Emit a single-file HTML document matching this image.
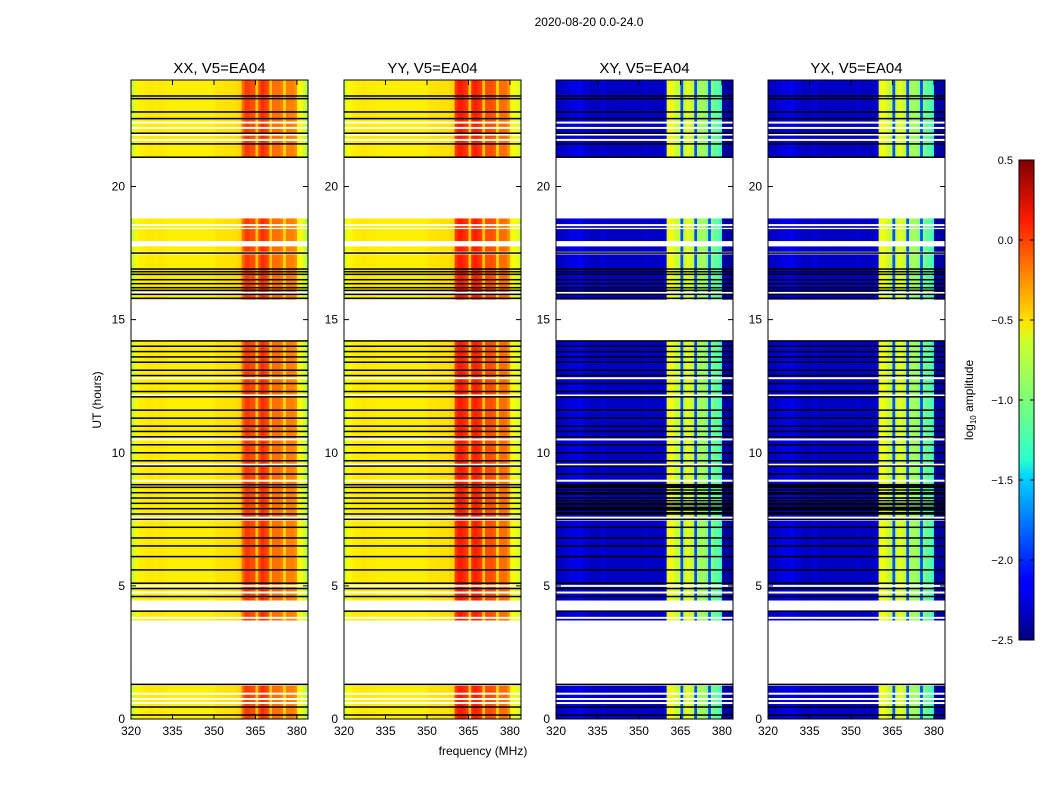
<!DOCTYPE html>
<html><head><meta charset="utf-8"><style>
body{margin:0;background:#fff}
svg{display:block;font-family:"Liberation Sans",sans-serif}
</style></head><body>
<svg id="fig" width="1050" height="800" viewBox="0 0 1050 800">
<defs><linearGradient id="jet" x1="0" y1="1" x2="0" y2="0">
<stop offset="0" stop-color="#00007f"/><stop offset="0.11" stop-color="#0000ff"/><stop offset="0.125" stop-color="#0000ff"/>
<stop offset="0.34" stop-color="#00d4ff"/><stop offset="0.375" stop-color="#29ffce"/><stop offset="0.5" stop-color="#7dff7a"/>
<stop offset="0.625" stop-color="#ceff29"/><stop offset="0.66" stop-color="#ffe600"/><stop offset="0.875" stop-color="#ff1a00"/><stop offset="1" stop-color="#7f0000"/>
</linearGradient></defs>
<text x="589" y="26" font-size="12" text-anchor="middle">2020-08-20 0.0-24.0</text>
<g id="panels"></g>
<text x="483" y="755" font-size="12" text-anchor="middle">frequency (MHz)</text>
<text x="101" y="400" font-size="12" text-anchor="middle" transform="rotate(-90 101 400)">UT (hours)</text>
<g>
<rect x="1019" y="160" width="15" height="480" fill="url(#jet)" stroke="#000" stroke-width="1"/>
<g id="cbticks"></g>
<text x="973" y="400" font-size="12" text-anchor="middle" transform="rotate(-90 973 400)">log<tspan font-size="8" dy="3">10</tspan><tspan dy="-3"> amplitude</tspan></text>
</g>
</svg>
<script>
const titles=["XX, V5=EA04","YY, V5=EA04","XY, V5=EA04","YX, V5=EA04"];
const freqTicks=[320,335,350,365,380];
const timeTicks=[0,5,10,15,20];
const cbTicks=[0.5,0.0,-0.5,-1.0,-1.5,-2.0,-2.5];
// observed time segments (hours)
const segStart=[0.0,3.7,4.45,7.6,15.75,17.55,17.95,18.45,21.1];
const segEnd=[1.25,4.05,7.45,14.2,17.45,17.75,18.4,18.8,24.0];
// flagged (white) and dropout (black) lines (hours)
const whiteLines=[22.4,22.2,21.95,21.75,18.55,17.85,16.0,12.8,12.15,10.5,9.55,8.95,5.0,4.75,3.8,0.95,0.75,0.6];
const blackLines=[23.4,23.3,22.8,22.55,22.0,21.6,21.1,17.5,16.9,16.8,16.7,16.5,16.35,16.2,16.1,15.95,15.8,14.2,14.0,13.8,13.6,13.4,13.1,12.9,12.6,12.3,12.1,11.6,11.3,11.0,10.8,10.6,10.3,10.0,9.7,9.5,9.2,8.8,8.7,8.5,8.3,8.1,7.9,7.7,7.5,7.2,6.8,6.5,6.1,5.6,5.1,4.9,4.6,4.05,1.3,0.45,0.15];
const crossBlack=[8.75,8.6,8.45,8.3,8.2,8.05,7.95,7.85,7.75];
// spectra per 1 MHz bin, 320..384
const specXX=[-0.8,-0.7,-0.6,-0.58,-0.58,-0.57,-0.56,-0.56,-0.57,-0.57,-0.56,-0.56,-0.57,-0.58,-0.58,-0.58,-0.58,-0.58,-0.58,-0.58,-0.58,-0.58,-0.58,-0.58,-0.58,-0.58,-0.58,-0.58,-0.58,-0.58,-0.56,-0.55,-0.55,-0.55,-0.54,-0.54,-0.54,-0.54,-0.52,-0.5,-0.2,-0.05,-0.05,-0.1,-0.1,-0.45,-0.1,0.0,-0.05,-0.1,-0.45,-0.2,-0.2,-0.2,-0.25,-0.5,-0.25,-0.25,-0.25,-0.3,-0.6,-0.65,-0.75,-0.85];
const specYY=[-0.75,-0.65,-0.6,-0.58,-0.57,-0.57,-0.56,-0.56,-0.57,-0.57,-0.57,-0.57,-0.58,-0.58,-0.58,-0.58,-0.58,-0.58,-0.58,-0.58,-0.58,-0.58,-0.58,-0.58,-0.58,-0.58,-0.58,-0.58,-0.58,-0.58,-0.56,-0.55,-0.55,-0.55,-0.54,-0.54,-0.54,-0.54,-0.52,-0.5,-0.05,0.05,0.05,0.0,-0.05,-0.45,0.0,0.05,0.0,-0.05,-0.45,-0.1,-0.1,-0.1,-0.15,-0.5,-0.2,-0.2,-0.2,-0.3,-0.6,-0.65,-0.7,-0.75];
const specXY=[-2.3,-2.3,-2.3,-2.25,-2.25,-2.2,-2.2,-2.2,-2.15,-2.2,-2.25,-2.25,-2.3,-2.3,-2.3,-2.3,-2.25,-2.25,-2.3,-2.3,-2.3,-2.3,-2.3,-2.3,-2.3,-2.3,-2.3,-2.3,-2.3,-2.3,-2.3,-2.3,-2.25,-2.3,-2.3,-2.3,-2.3,-2.3,-2.3,-2.2,-0.7,-0.6,-0.7,-0.8,-0.8,-1.9,-0.8,-0.7,-0.75,-0.8,-1.9,-0.9,-0.9,-0.9,-1.0,-1.9,-1.0,-1.1,-1.1,-1.2,-2.4,-2.4,-2.4,-2.4];
const specYX=[-2.3,-2.3,-2.3,-2.25,-2.25,-2.2,-2.2,-2.2,-2.15,-2.2,-2.25,-2.25,-2.3,-2.3,-2.3,-2.3,-2.25,-2.25,-2.3,-2.3,-2.3,-2.3,-2.3,-2.3,-2.3,-2.3,-2.3,-2.3,-2.3,-2.3,-2.3,-2.3,-2.25,-2.3,-2.3,-2.3,-2.3,-2.3,-2.3,-2.2,-0.7,-0.65,-0.7,-0.8,-0.8,-1.9,-0.8,-0.7,-0.75,-0.8,-1.9,-0.9,-0.9,-0.9,-1.0,-1.9,-1.0,-1.1,-1.1,-1.2,-2.4,-2.4,-2.4,-2.4];
const spectra=[specXX,specYY,specXY,specYX];

const NS="http://www.w3.org/2000/svg";
const lefts=[131,344,556,768], PW=177, TOP=80, BOT=719;
const fx=(l,f)=>l+(f-320)*(PW/64);
const ty=h=>BOT-(h/24)*(BOT-TOP);
function jet(v){let t=(v+2.5)/3;t=Math.max(0,Math.min(1,t));
 const c=x=>Math.round(255*Math.max(0,Math.min(1,1.5-Math.abs(x))));
 return `rgb(${c(4*t-3)},${c(4*t-2)},${c(4*t-1)})`;}
function el(tag,attrs,parent){const e=document.createElementNS(NS,tag);for(const k in attrs)e.setAttribute(k,attrs[k]);parent.appendChild(e);return e;}
const root=document.getElementById('panels');
spectra.forEach((spec,p)=>{
 const L=lefts[p];
 const g=el('g',{},root);
 
 
 const t=el('text',{x:L+PW/2,y:73,'font-size':15,'text-anchor':'middle'},g);t.textContent=titles[p];
 
 
 segStart.forEach((s,i)=>{
  const y0=ty(segEnd[i]),y1=ty(s);
  spec.forEach((v,j)=>{
   const r=el('rect',{x:fx(L,320+j),y:y0,width:PW/64+0.4,height:y1-y0,fill:jet(v)},g);
   
   
  });
 });
 whiteLines.forEach(h=>{const r=el('rect',{x:L,y:ty(h)-1,width:PW,height:2,fill:'#fff'},g);
  
  });
 const bl=p>=2?blackLines.concat(crossBlack):blackLines;
 bl.forEach(h=>{const r=el('rect',{x:L,y:ty(h)-0.75,width:PW,height:1.5,fill:'#000'},g);
  
  });
 const fr=el('rect',{x:L,y:TOP,width:PW,height:BOT-TOP,fill:'none',stroke:'#000','stroke-width':1},g);
 
 
 freqTicks.forEach(f=>{const x=fx(L,f);
  el('line',{x1:x,y1:BOT,x2:x,y2:BOT-5,stroke:'#000'},g);el('line',{x1:x,y1:TOP,x2:x,y2:TOP+5,stroke:'#000'},g);
  const tx=el('text',{x:x,y:BOT+16,'font-size':12,'text-anchor':'middle'},g);tx.textContent=f;
  
  });
 timeTicks.forEach(h=>{const y=ty(h);
  el('line',{x1:L,y1:y,x2:L+5,y2:y,stroke:'#000'},g);el('line',{x1:L+PW,y1:y,x2:L+PW-5,y2:y,stroke:'#000'},g);
  const tx=el('text',{x:L-6,y:y+4,'font-size':12,'text-anchor':'end'},g);tx.textContent=h;
  
  });
});
const cb=document.getElementById('cbticks');
cbTicks.forEach(v=>{const y=160+(0.5-v)*160;
 el('line',{x1:1019,y1:y,x2:1023,y2:y,stroke:'#000'},cb);
 el('line',{x1:1034,y1:y,x2:1030,y2:y,stroke:'#000'},cb);
 const tx=el('text',{x:1013,y:y+4,'font-size':11,'text-anchor':'end'},cb);tx.textContent=(v<0?'\u2212':'')+Math.abs(v).toFixed(1);
 
 });
</script>
</body></html>
